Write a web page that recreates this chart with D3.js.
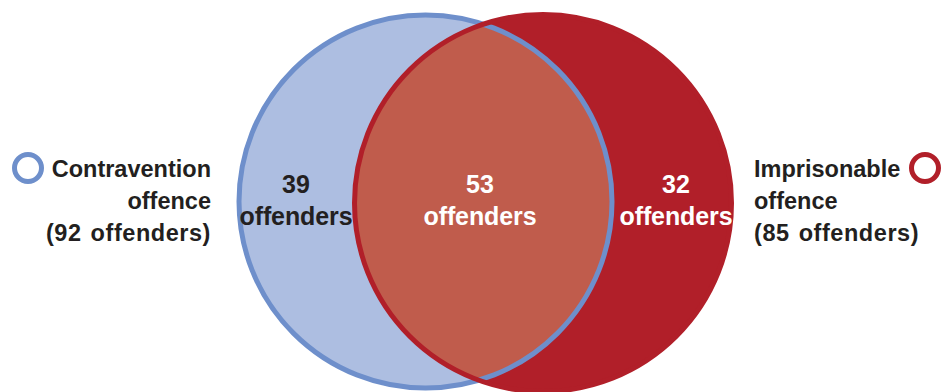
<!DOCTYPE html>
<html>
<head>
<meta charset="utf-8">
<script src="https://cdn.jsdelivr.net/npm/d3@7"></script>
<style>
  html, body { margin: 0; padding: 0; background: #ffffff; }
  svg { display: block; }
  text { font-family: "Liberation Sans", Arial, sans-serif; }
</style>
</head>
<body>
<div id="chart"></div>
<script>
// ---- data ----
const setNames = ["Contravention offence", "Imprisonable offence"];
const setTotals = [92, 85];
const regionLabels = ["only contravention", "both", "only imprisonable"];
const regionCounts = [39, 53, 32];
const unitLabel = "offenders";

// ---- layout ----
const W = 941, H = 392;
const svg = d3.select("#chart").append("svg").attr("width", W).attr("height", H);

const blueFill = "#adbee1", blueStroke = "#6e8fcb";
const redFill = "#b11f29", overlapFill = "#c05c4c";
const darkText = "#231f20";

// Horizontal scale in "set units": position 0 = left set centre, 1 = right set centre
const x = d3.scaleLinear().domain([0, 1]).range([425.5, 543]);
const circles = [
  { cx: x(0), cy: 201.5, r: 186.5, fill: blueFill, stroke: blueStroke },
  { cx: x(1), cy: 203, r: 188.5, fill: redFill, stroke: redFill }
];

const defs = svg.append("defs");
defs.append("clipPath").attr("id", "clipLeft")
  .append("circle").attr("cx", circles[0].cx).attr("cy", circles[0].cy).attr("r", circles[0].r);

// fills
svg.append("circle").attr("cx", circles[0].cx).attr("cy", circles[0].cy).attr("r", circles[0].r)
  .attr("fill", circles[0].fill);
svg.append("circle").attr("cx", circles[1].cx).attr("cy", circles[1].cy).attr("r", circles[1].r)
  .attr("fill", circles[1].fill);
svg.append("circle").attr("cx", circles[1].cx).attr("cy", circles[1].cy).attr("r", circles[1].r)
  .attr("fill", overlapFill).attr("clip-path", "url(#clipLeft)");

// strokes
svg.append("circle").attr("cx", circles[0].cx).attr("cy", circles[0].cy).attr("r", circles[0].r)
  .attr("fill", "none").attr("stroke", circles[0].stroke).attr("stroke-width", 5);
svg.append("circle").attr("cx", circles[1].cx).attr("cy", circles[1].cy).attr("r", circles[1].r)
  .attr("fill", "none").attr("stroke", circles[1].stroke).attr("stroke-width", 5);

// region labels
const regionX = [296, 480, 676];
const regionColor = [darkText, "#ffffff", "#ffffff"];
regionCounts.forEach((c, i) => {
  const t = svg.append("text").attr("text-anchor", "middle")
    .attr("font-weight", "bold").attr("font-size", 25).attr("fill", regionColor[i]);
  t.append("tspan").attr("x", regionX[i]).attr("y", 193).text(c);
  t.append("tspan").attr("x", regionX[i]).attr("y", 225).attr("letter-spacing", -0.1).text(unitLabel);
});

// set labels
function setLabel(i, lines, anchor, xPos, markerX, color) {
  const t = svg.append("text").attr("text-anchor", anchor)
    .attr("font-weight", "bold").attr("font-size", 23.5).attr("fill", darkText);
  lines.forEach((l, k) => {
    t.append("tspan").attr("x", xPos).attr("y", 177 + k * 32)
      .attr("letter-spacing", k === 2 ? 0.55 : 0)
      .attr("word-spacing", k === 2 ? 2 : 0)
      .text(l);
  });
  svg.append("circle").attr("cx", markerX).attr("cy", 168).attr("r", 13.5)
    .attr("fill", "none").attr("stroke", color).attr("stroke-width", 5);
}
const leftWords = setNames[0].split(" ");
const rightWords = setNames[1].split(" ");
setLabel(0, [leftWords[0], leftWords[1], `(${setTotals[0]} ${unitLabel})`], "end", 211, 28, blueStroke);
setLabel(1, [rightWords[0], rightWords[1], `(${setTotals[1]} ${unitLabel})`], "start", 754, 925, redFill);
</script>
</body>
</html>
